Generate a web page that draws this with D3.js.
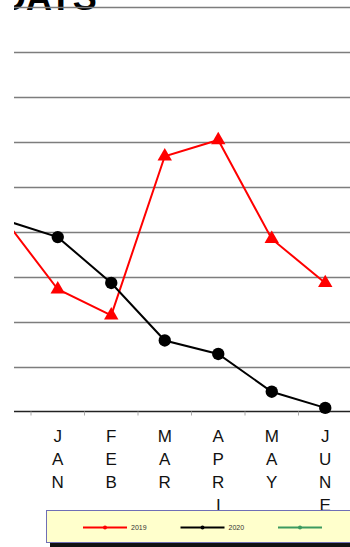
<!DOCTYPE html>
<html>
<head>
<meta charset="utf-8">
<script src="https://cdn.jsdelivr.net/npm/d3@7"></script>
<style>
  html, body { margin: 0; padding: 0; background: #fff; }
  svg { display: block; }
</style>
</head>
<body>
<svg id="chart" width="350" height="547"></svg>
<script>
// Months on the axis (the first one sits just outside the visible plot window)
const months = ["DEC", "JAN", "FEB", "MAR", "APRIL", "MAY", "JUNE"];

// Days per month for each year
const days2019 = [21.4, 13.6, 10.7, 28.4, 30.2, 19.2, 14.3];
const days2020 = [21.3, 19.4, 14.3, 7.9, 6.4, 2.2, 0.4];
const days2021 = [];

// Series names, colours and marker shapes
const seriesNames = ["2019", "2020", ""];
const seriesColors = ["#ff0000", "#000000", "#3c9a5f"];
const seriesMarkers = ["triangle", "circle", "circle"];

// Value axis ticks (gridlines)
const yTicks = [0, 5, 10, 15, 20, 25, 30, 35, 40, 45];

const seriesValues = [days2019, days2020, days2021];
const series = seriesNames.map((name, i) => ({
  name, color: seriesColors[i], marker: seriesMarkers[i], values: seriesValues[i]
}));

const viewLeft = 14;
const svg = d3.select("#chart");

svg.append("defs").append("clipPath").attr("id", "view")
  .append("rect").attr("x", viewLeft).attr("y", 0).attr("width", 400).attr("height", 547);

const root = svg.append("g").attr("clip-path", "url(#view)");

const x = d3.scaleBand().domain(months).range([-22.5, 352]).paddingInner(0).paddingOuter(0);
const y = d3.scaleLinear().domain([0, 45]).range([411.5, 7]);
const cx = m => x(m) + x.bandwidth() / 2;

// Title
root.append("text")
  .attr("x", 0).attr("y", 10)
  .attr("font-family", "Liberation Sans, Arial, sans-serif")
  .attr("font-weight", "bold")
  .attr("font-size", 36)
  .attr("fill", "#000")
  .text("DAYS");

// Horizontal gridlines
root.append("g").selectAll("line")
  .data(yTicks.filter(t => t > 0))
  .join("line")
  .attr("x1", viewLeft).attr("x2", 360)
  .attr("y1", d => Math.round(y(d)) + 0.5).attr("y2", d => Math.round(y(d)) + 0.5)
  .attr("stroke", "#7d7d7d")
  .attr("stroke-width", 1.3);

// Category axis: baseline with ticks between the months
const xAxis = root.append("g");
xAxis.append("line")
  .attr("x1", viewLeft).attr("x2", 360)
  .attr("y1", y(0)).attr("y2", y(0))
  .attr("stroke", "#222").attr("stroke-width", 1.5);
xAxis.selectAll("line.tick")
  .data(months.slice(1))
  .join("line")
  .attr("class", "tick")
  .attr("x1", d => x(d)).attr("x2", d => x(d))
  .attr("y1", y(0)).attr("y2", y(0) + 4)
  .attr("stroke", "#aaa").attr("stroke-width", 1);

// Month labels written one letter per line (only those inside the window)
const labels = xAxis.selectAll("text.month")
  .data(months.filter(m => cx(m) > viewLeft))
  .join("text")
  .attr("class", "month")
  .attr("x", d => cx(d))
  .attr("y", 442)
  .attr("text-anchor", "middle")
  .attr("font-family", "Liberation Sans, Arial, sans-serif")
  .attr("font-size", 17)
  .attr("fill", "#111");
labels.selectAll("tspan")
  .data(d => d.split(""))
  .join("tspan")
  .attr("x", function () { return d3.select(this.parentNode).attr("x"); })
  .attr("dy", (d, i) => i === 0 ? 0 : 23)
  .text(d => d);

// Data lines and markers
const line = d3.line()
  .x((d, i) => cx(months[i]))
  .y(d => y(d));

series.filter(s => s.values.length).forEach(s => {
  const g = root.append("g");
  g.append("path")
    .attr("d", line(s.values))
    .attr("fill", "none")
    .attr("stroke", s.color)
    .attr("stroke-width", 2);
  const sym = d3.symbol()
    .type(s.marker === "triangle" ? d3.symbolTriangle : d3.symbolCircle)
    .size(s.marker === "triangle" ? 90 : 120);
  g.selectAll("path.mark")
    .data(s.values)
    .join("path")
    .attr("class", "mark")
    .attr("transform", (d, i) => `translate(${cx(months[i])},${y(d)})`)
    .attr("d", sym())
    .attr("fill", s.color);
});

// Legend box with drop shadow
const legend = root.append("g");
legend.append("rect")
  .attr("x", 50).attr("y", 543).attr("width", 320).attr("height", 4)
  .attr("fill", "#111");
legend.append("rect")
  .attr("x", 46.5).attr("y", 510.5).attr("width", 320).attr("height", 32)
  .attr("fill", "#ffffcc")
  .attr("stroke", "#6f6fb5").attr("stroke-width", 1);

const item = legend.selectAll("g.item")
  .data(series)
  .join("g")
  .attr("class", "item")
  .attr("transform", (d, i) => `translate(${83 + i * 97.5},527.5)`);
item.append("line")
  .attr("x1", 0).attr("x2", 44)
  .attr("stroke", d => d.color).attr("stroke-width", 2);
item.append("circle")
  .attr("cx", 22).attr("r", 2)
  .attr("fill", d => d.color);
item.append("text")
  .attr("x", 48).attr("y", 2.5)
  .attr("font-family", "Liberation Sans, Arial, sans-serif")
  .attr("font-size", 7)
  .attr("fill", "#333")
  .text(d => d.name);
</script>
</body>
</html>
